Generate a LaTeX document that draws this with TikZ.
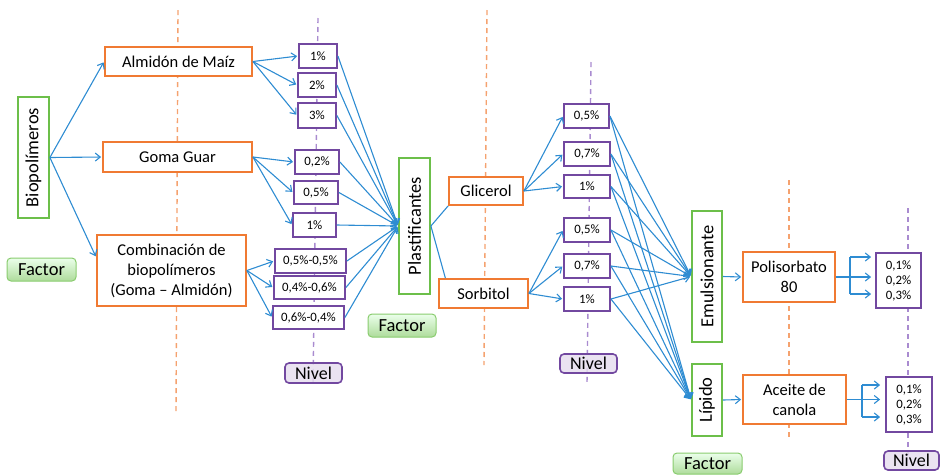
\documentclass[tikz,border=0pt]{standalone}
\usepackage{fontspec}
\setmainfont{Carlito}
\usetikzlibrary{arrows.meta,calc}
\definecolor{orng}{HTML}{F07A32}
\definecolor{orngl}{HTML}{F5A26F}
\definecolor{grn}{HTML}{6CBF4A}
\definecolor{prp}{HTML}{7248A0}
\definecolor{prpl}{HTML}{A98BD0}
\definecolor{blu}{HTML}{2E8CD2}
\tikzset{
  obox/.style={draw=orng,line width=1.8pt,fill=white,inner sep=0pt,align=center,font=\fontsize{16.5}{20}\selectfont},
  gbox/.style={draw=grn,line width=1.8pt,fill=white,inner sep=0pt,font=\fontsize{18.5}{20}\selectfont},
  lbox/.style={draw=prp,line width=1.8pt,fill=white,inner sep=0pt,align=center,font=\fontsize{12.8}{15}\selectfont},
  factorlbl/.style={draw=grn!80,line width=1pt,rounded corners=4pt,top color=green!8,bottom color=grn!55,inner sep=0pt,font=\fontsize{18.5}{20}\selectfont},
  nivellbl/.style={draw=prp,line width=1.6pt,rounded corners=4pt,fill=prp!18,fill opacity=0.85,text opacity=1,inner sep=0pt,font=\fontsize{18}{20}\selectfont},
  odash/.style={draw=orngl,line width=1.4pt,dash pattern=on 5pt off 4pt},
  pdash/.style={draw=prpl,line width=1.4pt,dash pattern=on 5pt off 4pt},
  cline/.style={draw=blu,line width=1.1pt},
  carr/.style={cline,-{Straight Barb[length=5pt,width=8pt]},shorten >=1pt},
}
\begin{document}
\begin{tikzpicture}[x=1pt,y=-1pt]
\useasboundingbox (0,0) rectangle (941,475);
% dashed guide lines
\coordinate (oa1) at (178,10); \coordinate (oa2) at (176,413);
\coordinate (pa1) at (318,18); \coordinate (pa2) at (313,385);
\coordinate (ob1) at (487,10); \coordinate (ob2) at (484,365);
\coordinate (pb1) at (591,62); \coordinate (pb2) at (587,383);
\coordinate (oc1) at (789,180); \coordinate (oc2) at (789,437);
\coordinate (pc1) at (908,208); \coordinate (pc2) at (908,455);
\draw[odash] (oa1) -- (oa2);
\draw[pdash] (pa1) -- (pa2);
\draw[odash] (ob1) -- (ob2);
\draw[pdash] (pb1) -- (pb2);
\draw[odash] (oc1) -- (oc2);
\draw[pdash] (pc1) -- (pc2);

% left column
\node[gbox,minimum width=31,minimum height=121] (bio) at (33.5,157.5) {\rotatebox{90}{Biopolímeros}};
\node[factorlbl,minimum width=69,minimum height=23] (f1) at (41.5,269.5) {Factor};
\node[obox,minimum width=147,minimum height=29] (alm) at (178.5,61.5) {Almidón de Maíz};
\node[obox,minimum width=149,minimum height=30] (gom) at (177.5,157) {Goma Guar};
\node[obox,minimum width=149,minimum height=71] (comb) at (171.5,270.5) {Combinación de\\biopolímeros\\(Goma – Almidón)};

% level boxes 1
\node[lbox,minimum width=38,minimum height=24] (a1) at (318,56) {1\%};
\node[lbox,minimum width=38,minimum height=24] (a2) at (317,85) {2\%};
\node[lbox,minimum width=38,minimum height=25] (a3) at (317,115.5) {3\%};
\node[lbox,minimum width=44,minimum height=24] (a4) at (317,162) {0,2\%};
\node[lbox,minimum width=44,minimum height=23] (a5) at (316,192.5) {0,5\%};
\node[lbox,minimum width=43,minimum height=24] (a6) at (314.5,225) {1\%};
\node[lbox,minimum width=71,minimum height=24] (a7) at (310.5,261) {0,5\%-0,5\%};
\node[lbox,minimum width=71,minimum height=23] (a8) at (309.5,287.5) {0,4\%-0,6\%};
\node[lbox,minimum width=71,minimum height=23] (a9) at (308.5,317.5) {0,6\%-0,4\%};
\node[nivellbl,minimum width=57,minimum height=20] (n1) at (313.5,373) {Nivel};

% plastificantes
\node[gbox,minimum width=31,minimum height=136] (pla) at (414.5,226) {\rotatebox{90}{Plastificantes}};
\node[factorlbl,minimum width=68,minimum height=23] (f2) at (402,325.5) {Factor};
\node[obox,minimum width=74,minimum height=28] (gli) at (486,191) {Glicerol};
\node[obox,minimum width=89,minimum height=29] (sor) at (483.5,293.5) {Sorbitol};

% level boxes 2
\node[lbox,minimum width=45,minimum height=24] (b1) at (586.5,116) {0,5\%};
\node[lbox,minimum width=46,minimum height=24] (b2) at (587,154) {0,7\%};
\node[lbox,minimum width=46,minimum height=23] (b3) at (587,186.5) {1\%};
\node[lbox,minimum width=46,minimum height=24] (b4) at (587,230) {0,5\%};
\node[lbox,minimum width=46,minimum height=24] (b5) at (587,266) {0,7\%};
\node[lbox,minimum width=46,minimum height=24] (b6) at (587,299) {1\%};
\node[nivellbl,minimum width=57,minimum height=19] (n2) at (588.5,363.5) {Nivel};

% emulsionante / lipido
\node[gbox,minimum width=30,minimum height=131] (emu) at (707,276.5) {\rotatebox{90}{Emulsionante}};
\node[gbox,minimum width=30,minimum height=72] (lip) at (707,400) {\rotatebox{90}{Lípido}};
\node[factorlbl,minimum width=69,minimum height=21] (f3) at (707.5,463.5) {Factor};
\node[obox,minimum width=92,minimum height=50] (pol) at (789,277) {Polisorbato\\80};
\node[obox,minimum width=103,minimum height=49] (ace) at (794.5,399.5) {Aceite de\\canola};
\node[lbox,minimum width=45,minimum height=55] (r1) at (898.5,280.5) {0,1\%\\0,2\%\\0,3\%};
\node[lbox,minimum width=46,minimum height=55] (r2) at (909,404.5) {0,1\%\\0,2\%\\0,3\%};
\node[nivellbl,minimum width=55,minimum height=19] (n3) at (911.5,460.5) {Nivel};

% connectors: biopolimeros
\draw[carr] (bio.east) -- (alm.west);
\draw[carr] (bio.east) -- (gom.west);
\draw[carr] (bio.east) -- (comb.170);
\foreach \t in {a1,a2,a3} \draw[carr] (alm.east) -- (\t.west);
\foreach \t in {a4,a5,a6} \draw[carr] (gom.east) -- (\t.west);
\foreach \t in {a7,a8,a9} \draw[carr] (comb.east) -- (\t.west);
\foreach \s in {a1,a2,a3,a4,a5,a6,a7,a8,a9} \draw[carr] (\s.east) -- (pla.west);

% plastificantes
\draw[cline] (pla.east) -- (gli.south west);
\draw[cline] (pla.east) -- (sor.158);
\foreach \t in {b1,b2,b3} \draw[carr] (gli.east) -- (\t.west);
\foreach \t in {b4,b5,b6} \draw[carr] (sor.east) -- (\t.west);
\foreach \s in {b1,b2,b3,b4,b5,b6} {
  \draw[carr] (\s.east) -- (emu.west);
  \draw[carr] (\s.east) -- (lip.west);
}
\draw[carr] (emu.east) -- (pol.west);
\draw[carr] (lip.east) -- (ace.west);

% brackets
\coordinate (k1t) at (850,257);
\coordinate (k1b) at (850,294);
\draw[cline] (k1t) -- (k1b);
\draw[carr,shorten >=4pt] (pol.east) -- (pol.east -| r1.west);
\draw[carr,shorten >=4pt] (k1t) -- (k1t -| r1.west);
\draw[carr,shorten >=4pt] (k1b) -- (k1b -| r1.west);
\coordinate (k2t) at (862,385);
\coordinate (k2b) at (862,417);
\draw[cline] (k2t) -- (k2b);
\draw[carr,shorten >=5pt] (ace.east) -- (ace.east -| r2.west);
\draw[carr,shorten >=5pt] (k2t) -- (k2t -| r2.west);
\draw[carr,shorten >=5pt] (k2b) -- (k2b -| r2.west);
\end{tikzpicture}
\end{document}
